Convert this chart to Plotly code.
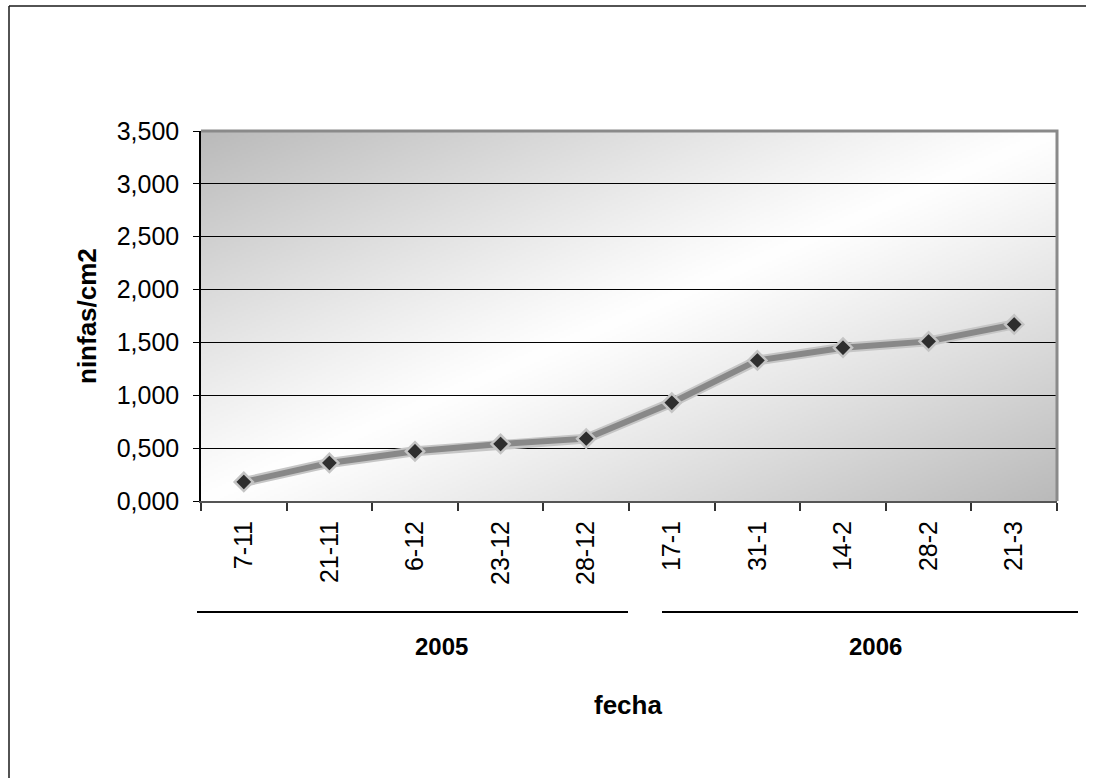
import base64
import struct
import zlib

import numpy as np
import plotly.graph_objects as go

# Sampling dates (day-month) and nymph density per cm2
fechas = ["7-11", "21-11", "6-12", "23-12", "28-12", "17-1", "31-1", "14-2", "28-2", "21-3"]
ninfas = [0.18, 0.36, 0.47, 0.54, 0.59, 0.93, 1.33, 1.45, 1.51, 1.67]

# Season groups under the date axis
anios = ["2005", "2006"]

W, H = 1093, 778
L, R, T, B = 201, 1057, 131, 501  # plot area in pixels


def px(x):
    return (x - L) / (R - L)


def py(y):
    return (B - y) / (B - T)


def png_gray(arr):
    h, w = arr.shape
    raw = b"".join(b"\x00" + arr[r].tobytes() for r in range(h))

    def chunk(tag, data):
        body = tag + data
        return struct.pack(">I", len(data)) + body + struct.pack(">I", zlib.crc32(body) & 0xFFFFFFFF)

    header = struct.pack(">IIBBBBB", w, h, 8, 0, 0, 0, 0)
    return (b"\x89PNG\r\n\x1a\n" + chunk(b"IHDR", header)
            + chunk(b"IDAT", zlib.compress(raw, 9)) + chunk(b"IEND", b""))


# Diagonal grey-white-grey fill for the plot area
gw, gh = 428, 185
u = np.linspace(0, 1, gw)[None, :]
v = np.linspace(0, 1, gh)[:, None]
d = np.abs((u + v) / 2 - 0.5) * 2
grad = (255 - (255 - 186) * d ** 1.1).clip(0, 255).astype(np.uint8)
bg_uri = "data:image/png;base64," + base64.b64encode(png_gray(grad)).decode()

FONT = "Arial, 'Liberation Sans', sans-serif"

fig = go.Figure()

# Pale outer edge of the series line
fig.add_trace(go.Scatter(
    x=fechas, y=ninfas, mode="lines",
    line=dict(color="#c6c6c6", width=10),
    hoverinfo="skip", showlegend=False,
))
# Textured core of the series line with diamond markers
fig.add_trace(go.Scatter(
    x=fechas, y=ninfas, mode="lines+markers",
    line=dict(color="#888888", width=6),
    marker=dict(symbol="diamond", size=14, color="#2e2e2e",
                line=dict(color="#c4c4c4", width=2.5)),
    showlegend=False,
))

shapes = [
    # grey frame on top and right of the plot area
    dict(type="path", xref="paper", yref="paper",
         path="M 0,1 L 1,1 L 1,0", line=dict(color="#8a8a8a", width=3), layer="above"),
    # outer chart frame (left and top edges)
    dict(type="line", xref="paper", yref="paper",
         x0=px(9), x1=px(9), y0=py(6), y1=py(H), line=dict(color="#1a1a1a", width=1.5)),
    dict(type="line", xref="paper", yref="paper",
         x0=px(9), x1=px(W - 7), y0=py(6), y1=py(6), line=dict(color="#1a1a1a", width=1.5)),
]

# Year bracket lines and labels below the date labels
year_line_px = [(197, 628), (662, 1078)]
year_label_px = [441, 875]
annotations = []
for anio, (x0, x1), xl in zip(anios, year_line_px, year_label_px):
    shapes.append(dict(type="line", xref="paper", yref="paper",
                       x0=px(x0), x1=px(x1), y0=py(612), y1=py(612),
                       line=dict(color="black", width=2)))
    annotations.append(dict(text=f"<b>{anio}</b>", xref="paper", yref="paper",
                            x=px(xl), y=py(646), showarrow=False,
                            xanchor="center", yanchor="middle",
                            font=dict(family=FONT, size=24, color="black")))

annotations.append(dict(text="<b>fecha</b>", xref="paper", yref="paper",
                        x=px(628), y=py(705), showarrow=False,
                        xanchor="center", yanchor="middle",
                        font=dict(family=FONT, size=26, color="black")))
annotations.append(dict(text="<b>ninfas/cm2</b>", xref="paper", yref="paper",
                        x=px(87), y=0.5, showarrow=False, textangle=-90,
                        xanchor="center", yanchor="middle",
                        font=dict(family=FONT, size=26, color="black")))

fig.update_layout(
    width=W, height=H,
    margin=dict(l=L, r=W - R, t=T, b=H - B),
    paper_bgcolor="white",
    plot_bgcolor="rgba(0,0,0,0)",
    separators=",.",
    font=dict(family=FONT, size=25, color="black"),
    images=[dict(source=bg_uri, xref="paper", yref="paper", x=0, y=1,
                 sizex=1, sizey=1, sizing="stretch", xanchor="left",
                 yanchor="top", layer="below")],
    shapes=shapes,
    annotations=annotations,
    showlegend=False,
)

fig.update_xaxes(
    type="category", tickson="boundaries", ticks="outside", ticklen=8,
    tickcolor="#333333", tickwidth=1.5, tickangle=-90,
    ticklabelstandoff=8,
    showline=True, linecolor="#555555", linewidth=2,
    showgrid=False, zeroline=False,
    tickfont=dict(family=FONT, size=25, color="black"),
    range=[-0.5, len(fechas) - 0.5],
)
fig.update_yaxes(
    range=[0, 3.5], dtick=0.5, tick0=0, tickformat=".3f",
    ticks="outside", ticklen=6, tickcolor="black",
    ticklabelstandoff=9,
    showline=True, linecolor="black", linewidth=1.5,
    showgrid=True, gridcolor="black", gridwidth=1,
    zeroline=False,
    tickfont=dict(family=FONT, size=25, color="black"),
)

fig.write_html("out.html")
